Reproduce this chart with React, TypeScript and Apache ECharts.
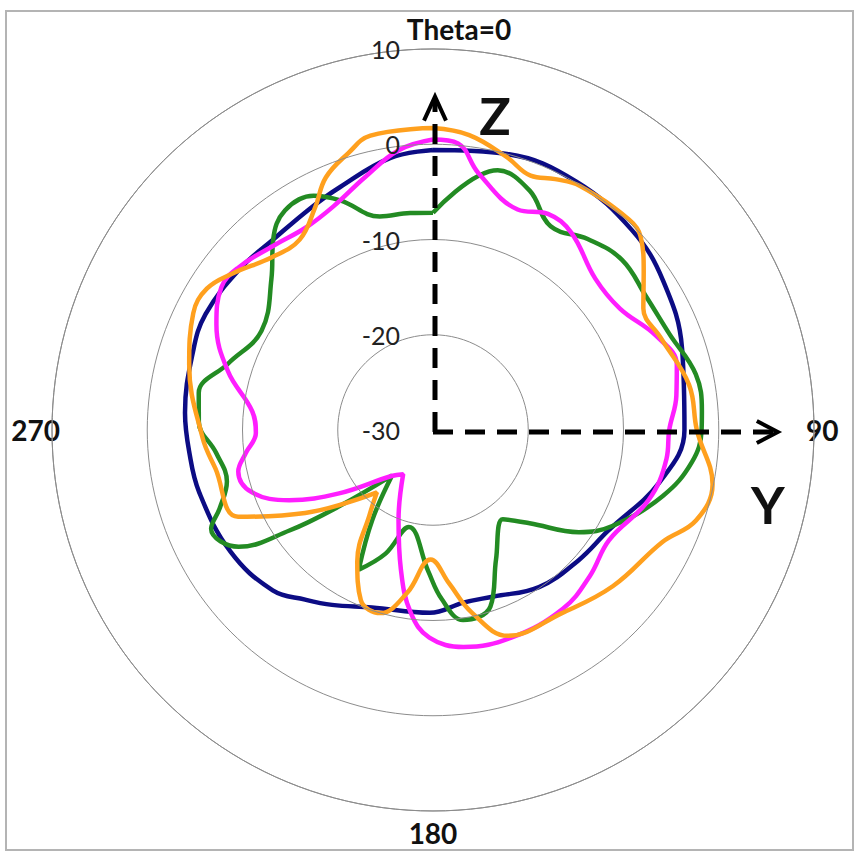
import React, { useEffect, useRef } from "react";
import * as echarts from "echarts";

// Radial ticks (dB) and angle tick labels
const radialMin = -30;
const radialMax = 10;
const radialStep = 10;
const angleTickValues = [0, 90, 180, 270];
const angleTickLabels = ["Theta=0", "90", "180", "270"];

// Series: angle (deg, clockwise from top) and gain (dB)
const navyAngles = [0, 15, 30, 45, 57, 72, 90, 103, 120, 132, 146, 160, 170, 181, 199, 210, 217, 225, 239, 255, 265, 274, 288, 297, 310, 320, 331, 339, 351, 360];
const navyValues = [-0.6, 0.0, 0.1, -0.4, -1.2, -2.5, -3.6, -5.6, -8.8, -9.5, -10.1, -11.4, -11.6, -10.8, -10.3, -8.8, -7.7, -6.2, -5.2, -4.6, -4.3, -3.9, -3.5, -3.2, -3.6, -3.9, -3.4, -2.7, -1.1, -0.6];

const greenAngles = [0, 14, 22, 30, 39, 48, 58, 68, 78, 86, 90, 97, 106, 118, 125, 134, 142, 154, 162, 171, 177, 182, 194, 201, 208, 214, 222, 231, 235, 239, 246, 250, 256, 264, 272, 279, 288, 300, 313, 320, 326, 333, 338, 346, 354, 360];
const greenValues = [-7.2, -1.9, -2.9, -5.3, -4.2, -3.3, -3.6, -3.2, -1.8, -1.7, -1.8, -2.6, -4.9, -8.6, -11.3, -15.9, -18.1, -14.9, -10.5, -9.8, -12.2, -15.2, -19.5, -16.1, -13.4, -18.6, -23.6, -17.2, -11.6, -6.2, -4.5, -6.2, -7.7, -7.1, -5.4, -5.1, -7.4, -9.2, -6.8, -3.9, -2.2, -2.4, -4.0, -6.9, -7.1, -7.2];

const magentaAngles = [0, 5, 10, 21, 28, 35, 47, 57, 67, 75, 82, 90, 97, 108, 122, 133, 144, 159, 172, 181, 187, 193, 201, 214, 222, 236, 244, 251, 258, 263, 269, 276, 286, 296, 304, 310, 319, 328, 336, 345, 353, 360];
const magentaValues = [0.5, 0.2, -2.6, -5.2, -4.3, -4.7, -6.7, -6.6, -4.6, -3.5, -4.2, -5.2, -5.3, -6.2, -8.2, -7.5, -6.8, -6.7, -7.0, -8.2, -10.7, -15.0, -19.9, -24.4, -23.5, -18.1, -13.2, -9.9, -9.1, -10.2, -11.4, -10.9, -7.6, -4.7, -3.2, -3.4, -4.4, -4.9, -4.3, -2.5, -0.4, 0.5];

const orangeAngles = [0, 7, 15, 21, 26, 31, 43, 47, 53, 60, 68, 80, 90, 101, 109, 116, 131, 145, 160, 168, 174, 181, 189, 196, 203, 210, 217, 222, 237, 246, 260, 268, 285, 296, 302, 308, 317, 325, 332, 337, 343, 348, 360];
const orangeValues = [1.7, 1.2, -0.3, -1.4, -0.7, -0.1, 0.2, -0.2, -2.3, -4.5, -4.2, -2.7, -2.3, -0.1, -0.8, -3.2, -5.0, -6.5, -7.0, -10.4, -13.8, -16.4, -12.7, -10.0, -10.6, -14.1, -19.0, -21.2, -14.0, -7.6, -6.8, -5.8, -3.5, -2.0, -2.0, -3.3, -5.2, -5.6, -3.6, -1.2, 0.4, 1.6, 1.7];

// Annotation arrow tips (dB along the axis direction)
const arrowZTip = 5.0;
const arrowYTip = 6.2;

const CX = 433;
const CY = 430;
const R = 381;

const toPairs = (angles: number[], values: number[]) => angles.map((a, i) => [values[i], a]);

export default function App() {
  const ref = useRef<HTMLDivElement>(null);
  useEffect(() => {
    if (!ref.current) return;
    const chart = echarts.init(ref.current, null, { renderer: "svg" });
    const font = "Lato, 'Open Sans', sans-serif";
    const mk = (name: string, color: string, angles: number[], values: number[]) => ({
      name,
      type: "line",
      coordinateSystem: "polar",
      data: toPairs(angles, values),
      showSymbol: false,
      smooth: 0.4,
      lineStyle: { color, width: 4.5 },
      itemStyle: { color },
    });
    chart.setOption({
      animation: false,
      backgroundColor: "#ffffff",
      polar: { center: [CX, CY], radius: R },
      angleAxis: {
        type: "value",
        min: 0,
        max: 360,
        interval: 90,
        startAngle: 90,
        clockwise: true,
        axisLine: { show: true, lineStyle: { color: "#8c8c8c", width: 1 } },
        axisTick: { show: false },
        splitLine: { show: false },
        axisLabel: {
          margin: -8,
          color: "#111",
          fontFamily: font,
          fontSize: 28,
          fontWeight: "bold",
          formatter: (v: number) => {
            const i = angleTickValues.indexOf(v);
            if (i < 0) return "";
            if (v === 0) return "{t|" + angleTickLabels[i] + "}";
            if (v === 180) return "{b|" + angleTickLabels[i] + "}";
            return angleTickLabels[i];
          },
          rich: {
            t: { fontFamily: font, fontSize: 28, fontWeight: "bold", color: "#111", padding: [0, 0, 14, 52] },
            b: { fontFamily: font, fontSize: 28, fontWeight: "bold", color: "#111", padding: [16, 0, 0, 0] },
          },
        },
      },
      radiusAxis: {
        type: "value",
        min: radialMin,
        max: radialMax,
        interval: radialStep,
        axisLine: { show: false },
        axisTick: { show: false },
        splitLine: { show: true, lineStyle: { color: "#8c8c8c", width: 1 } },
        axisLabel: { margin: 33, color: "#222", fontFamily: font, fontSize: 25 },
        z: 5,
      },
      series: [
        mk("navy", "#0c0c84", navyAngles, navyValues),
        mk("green", "#238b23", greenAngles, greenValues),
        mk("magenta", "#ff1eff", magentaAngles, magentaValues),
        mk("orange", "#ffa01e", orangeAngles, orangeValues),
      ],
    });
    const c = chart.convertToPixel({ seriesIndex: 0 }, [radialMin, 0]) as number[];
    const zTip = chart.convertToPixel({ seriesIndex: 0 }, [arrowZTip, 0]) as number[];
    const yTip = chart.convertToPixel({ seriesIndex: 0 }, [arrowYTip, 90]) as number[];
    const cx = c[0] + 2;
    const cy = c[1] + 2;
    chart.setOption({
      graphic: [
        { type: "rect", shape: { x: 6, y: 11, width: 847, height: 839 }, style: { fill: "none", stroke: "#b4b4b4", lineWidth: 2 }, z: 100 },
        { type: "line", shape: { x1: cx, y1: cy, x2: cx, y2: zTip[1] + 4 }, style: { stroke: "#000", lineWidth: 5, lineDash: [20, 12] }, z: 100 },
        { type: "line", shape: { x1: cx - 2, y1: cy, x2: yTip[0] - 4, y2: cy }, style: { stroke: "#000", lineWidth: 5, lineDash: [20, 12] }, z: 100 },
        { type: "polyline", shape: { points: [[cx - 11, zTip[1] + 24], [cx, zTip[1]], [cx + 11, zTip[1] + 24]] }, style: { stroke: "#000", lineWidth: 4, fill: "none" }, z: 100 },
        { type: "polyline", shape: { points: [[yTip[0] - 21, cy - 11], [yTip[0], cy], [yTip[0] - 21, cy + 11]] }, style: { stroke: "#000", lineWidth: 4, fill: "none" }, z: 100 },
        { type: "text", x: cx + 60, y: zTip[1] + 18, style: { text: "Z", fontFamily: font, fontSize: 52, fontWeight: "bold", fill: "#111", align: "center", verticalAlign: "middle" }, z: 100 },
        { type: "text", x: yTip[0] - 10, y: cy + 72, style: { text: "Y", fontFamily: font, fontSize: 52, fontWeight: "bold", fill: "#111", align: "center", verticalAlign: "middle" }, z: 100 },
      ],
    });
    return () => chart.dispose();
  }, []);
  return <div ref={ref} style={{ position: "fixed", left: 0, top: 0, width: 856, height: 851 }} />;
}
